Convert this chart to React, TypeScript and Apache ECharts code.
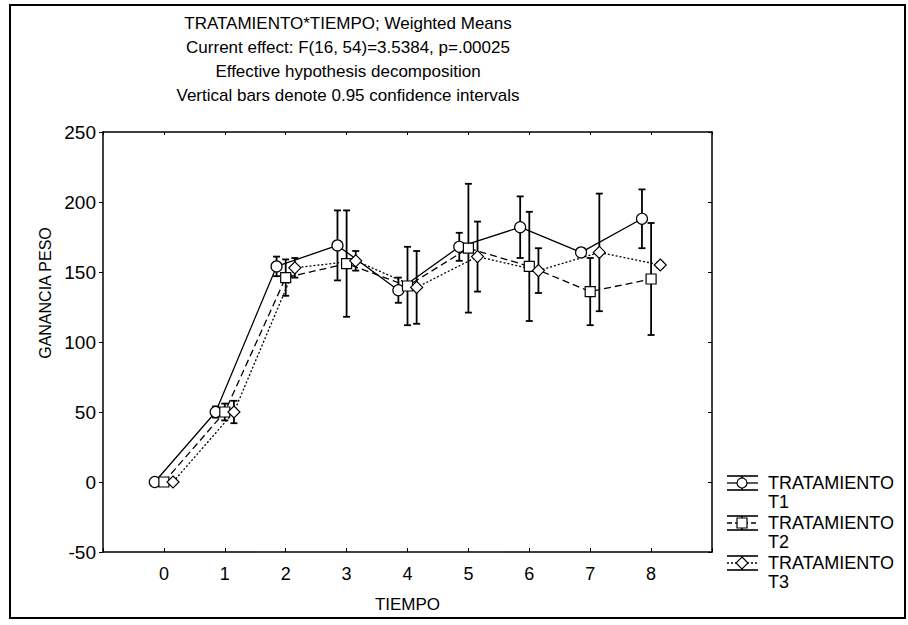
import React, { useEffect, useRef } from "react";
import * as echarts from "echarts";

const tiempo = [0, 1, 2, 3, 4, 5, 6, 7, 8];
const seriesNames = ["TRATAMIENTO T1", "TRATAMIENTO T2", "TRATAMIENTO T3"];
const t1Mean = [0, 50, 154, 169, 137, 168, 182, 164, 188];
const t1Err = [0, 4, 7, 25, 9, 10, 22, 3, 21];
const t2Mean = [0, 50, 146, 156, 140, 167, 154, 136, 145];
const t2Err = [0, 6, 13, 38, 28, 46, 39, 24, 40];
const t3Mean = [0, 50, 153, 158, 139, 161, 151, 164, 155];
const t3Err = [0, 8, 7, 7, 26, 25, 16, 42, 2];
const titleLines = [
  "TRATAMIENTO*TIEMPO; Weighted Means",
  "Current effect: F(16, 54)=3.5384, p=.00025",
  "Effective hypothesis decomposition",
  "Vertical bars denote 0.95 confidence intervals",
];
const xTicks = [0, 1, 2, 3, 4, 5, 6, 7, 8];
const yAxisTitle = "GANANCIA PESO";
const xAxisTitle = "TIEMPO";

const FONT = "Liberation Sans";

export default function App() {
  const ref = useRef<HTMLDivElement>(null);
  useEffect(() => {
    if (!ref.current) return;
    const chart = echarts.init(ref.current, null, { renderer: "svg" });
    const means = [t1Mean, t2Mean, t3Mean];
    const errs = [t1Err, t2Err, t3Err];
    const offsets = [-0.15, 0, 0.15];
    const symbols = ["circle", "rect", "diamond"];
    const symbolSizes = [11, 10, 12];
    const dashTypes: any[] = ["solid", [7, 4], [2, 2]];

    const lineSeries = means.map((m, i) => ({
      type: "line",
      name: seriesNames[i],
      data: tiempo.map((t, j) => [t + offsets[i], m[j]]),
      symbol: symbols[i],
      symbolSize: symbolSizes[i],
      showAllSymbol: true,
      z: 3,
      lineStyle: { color: "#000", width: 1.3, type: dashTypes[i] },
      itemStyle: { color: "#fff", borderColor: "#000", borderWidth: 1.2 },
      emphasis: { disabled: true },
    }));

    const errSeries = means.map((m, i) => ({
      type: "custom",
      name: seriesNames[i] + " CI",
      z: 2,
      data: tiempo.map((t, j) => [t + offsets[i], m[j] - errs[i][j], m[j] + errs[i][j]]),
      renderItem: (params: any, api: any) => {
        const x = api.value(0);
        const lo = api.coord([x, api.value(1)]);
        const hi = api.coord([x, api.value(2)]);
        const hw = 3.5;
        const st = { stroke: "#000", lineWidth: 1.8 };
        return {
          type: "group",
          children: [
            { type: "line", shape: { x1: lo[0], y1: lo[1], x2: hi[0], y2: hi[1] }, style: st },
            { type: "line", shape: { x1: lo[0] - hw, y1: lo[1], x2: lo[0] + hw, y2: lo[1] }, style: st },
            { type: "line", shape: { x1: hi[0] - hw, y1: hi[1], x2: hi[0] + hw, y2: hi[1] }, style: st },
          ],
        };
      },
    }));

    const legendGraphics: any[] = [];
    seriesNames.forEach((name, i) => {
      const cy = 483 + 40 * i;
      const x0 = 727, x1 = 758, cx = 742;
      const parts = name.split(" ");
      const ls = { stroke: "#000", lineWidth: 1.3 };
      legendGraphics.push(
        { type: "line", shape: { x1: x0, y1: cy - 7, x2: x1, y2: cy - 7 }, style: { stroke: "#000", lineWidth: 1.6 } },
        { type: "line", shape: { x1: x0, y1: cy + 7, x2: x1, y2: cy + 7 }, style: { stroke: "#000", lineWidth: 1.6 } },
        { type: "line", shape: { x1: cx, y1: cy - 7, x2: cx, y2: cy + 7 }, style: { stroke: "#000", lineWidth: 1.5 } },
        {
          type: "line",
          shape: { x1: x0, y1: cy, x2: x1, y2: cy },
          style: { ...ls, lineDash: i === 0 ? null : i === 1 ? [5, 3] : [2, 2] },
        }
      );
      if (i === 0) {
        legendGraphics.push({ type: "circle", shape: { cx, cy, r: 5 }, style: { fill: "#fff", stroke: "#000", lineWidth: 1.2 } });
      } else if (i === 1) {
        legendGraphics.push({ type: "rect", shape: { x: cx - 5, y: cy - 5, width: 10, height: 10 }, style: { fill: "#fff", stroke: "#000", lineWidth: 1.2 } });
      } else {
        legendGraphics.push({
          type: "polygon",
          shape: { points: [[cx, cy - 6], [cx + 6, cy], [cx, cy + 6], [cx - 6, cy]] },
          style: { fill: "#fff", stroke: "#000", lineWidth: 1.2 },
        });
      }
      legendGraphics.push(
        { type: "text", x: 768, y: cy, style: { text: parts[0], font: `18px '${FONT}'`, fill: "#000", textVerticalAlign: "middle" } },
        { type: "text", x: 768, y: cy + 18.5, style: { text: parts[1], font: `18px '${FONT}'`, fill: "#000", textVerticalAlign: "middle" } }
      );
    });

    const option: any = {
      animation: false,
      backgroundColor: "#fff",
      title: {
        text: titleLines.join("\n"),
        left: 343,
        top: 6,
        textAlign: "center",
        textStyle: { fontFamily: FONT, fontSize: 17, fontWeight: "normal", color: "#000", lineHeight: 24 },
      },
      grid: { left: 103, top: 132, width: 609, height: 420 },
      xAxis: [
        {
          type: "value",
          min: -1,
          max: 9,
          interval: 1,
          name: xAxisTitle,
          nameLocation: "middle",
          nameGap: 44,
          nameTextStyle: { fontFamily: FONT, fontSize: 17, color: "#000" },
          axisLine: { onZero: false, lineStyle: { color: "#000", width: 1.5 } },
          axisTick: { inside: true, length: 4, lineStyle: { color: "#000" } },
          axisLabel: {
            fontFamily: FONT,
            fontSize: 18,
            color: "#000",
            margin: 13,
            formatter: (v: number) => (xTicks.indexOf(v) >= 0 ? String(v) : ""),
          },
          splitLine: { show: false },
        },
        {
          type: "value",
          position: "top",
          min: -1,
          max: 9,
          interval: 1,
          axisLine: { show: true, onZero: false, lineStyle: { color: "#000", width: 1.5 } },
          axisTick: { show: true, inside: true, length: 3, lineStyle: { color: "#000" } },
          axisLabel: { show: false },
          splitLine: { show: false },
        },
      ],
      yAxis: [
        {
          type: "value",
          min: -50,
          max: 250,
          interval: 50,
          axisLine: { show: true, onZero: false, lineStyle: { color: "#000", width: 1.5 } },
          axisTick: { show: true, inside: false, length: 4, lineStyle: { color: "#000" } },
          axisLabel: { fontFamily: FONT, fontSize: 19, color: "#000", margin: 7 },
          splitLine: { show: false },
        },
        {
          type: "value",
          position: "right",
          min: -50,
          max: 250,
          interval: 50,
          axisLine: { show: true, onZero: false, lineStyle: { color: "#000", width: 1.5 } },
          axisTick: { show: true, inside: true, length: 4, lineStyle: { color: "#000" } },
          axisLabel: { show: false },
          splitLine: { show: false },
        },
      ],
      series: [...errSeries, ...lineSeries],
      graphic: [
        {
          type: "rect",
          shape: { x: 10, y: 5, width: 895, height: 613 },
          style: { fill: "none", stroke: "#000", lineWidth: 2 },
          silent: true,
        },
        {
          type: "text",
          x: 45,
          y: 293,
          rotation: Math.PI / 2,
          style: {
            text: yAxisTitle,
            font: `16px '${FONT}'`,
            fill: "#000",
            textAlign: "center",
            textVerticalAlign: "middle",
          },
        },
        ...legendGraphics,
      ],
    };
    chart.setOption(option);
    return () => chart.dispose();
  }, []);
  return (
    <div
      ref={ref}
      style={{ position: "fixed", left: 0, top: 0, width: 908, height: 625, background: "#fff" }}
    />
  );
}
